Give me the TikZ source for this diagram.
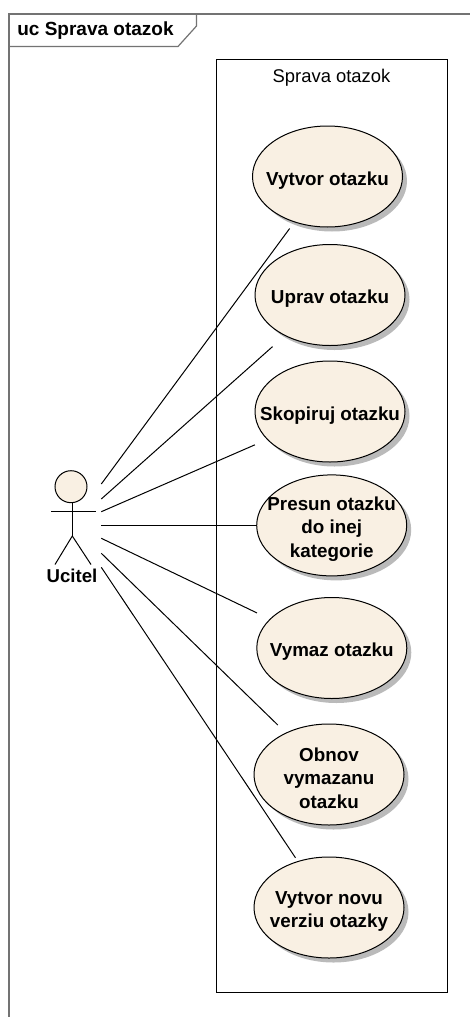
\documentclass[tikz,border=0pt]{standalone}
\usepackage{fontspec}
\setmainfont{Liberation Sans}
\usetikzlibrary{shadows,shapes.geometric}
\tikzset{
	usecase/.style={ellipse, draw=black, line width=1pt, fill=caseFill, minimum width=150pt, minimum height=101pt, inner xsep=-25pt, inner ysep=-20pt, outer sep=0pt, align=center, font=\fontsize{18.8}{23.2}\bfseries\selectfont, execute at begin node={\rule{0pt}{#1}}, general shadow={fill=black!27, shadow xshift=4.5pt, shadow yshift=-4.5pt}},
	usecase/.default=21pt,
	assoc/.style={line width=1pt, color=black},
	stick/.style={line width=1pt, color=black}
}
\definecolor{caseFill}{RGB}{249,240,227}
\begin{document}
\begin{tikzpicture}[x=1pt, y=-1pt]
		\useasboundingbox (0, 0) rectangle (470, 1017);
		
		\draw[line width=1.4pt, color=black!55] (9, 1017) -- (9, 14) -- (470, 14);
		\draw[line width=1.2pt, color=black!55] (9, 46.5) -- (178, 46.5) -- (196.5, 26) -- (196.5, 14);
		\node (title) at (95.5, 30.5) {\fontsize{19}{23}\bfseries\selectfont uc Sprava otazok};
		
		\node[draw=black, line width=1pt, minimum width=230.5pt, minimum height=932.5pt, inner sep=0pt, outer sep=0pt] (system) at (332, 526.2) {};
		\node (systemName) at (331.5, 78) {\fontsize{18.4}{23}\selectfont Sprava otazok};
		
		\node[usecase] (vytvor) at (327.5, 176.5) {Vytvor otazku};
		\node[usecase] (uprav) at (330, 295) {Uprav otazku};
		\node[usecase] (skopiruj) at (330, 411.5) {Skopiruj otazku};
		\node[usecase=67.4pt] (presun) at (331.7, 525.4) {Presun otazku\\do inej\\kategorie};
		\node[usecase] (vymaz) at (331.8, 648) {Vymaz otazku};
		\node[usecase=67.4pt] (obnov) at (329, 774.5) {Obnov\\vymazanu\\otazku};
		\node[usecase=44.2pt] (novu) at (329, 907.5) {Vytvor novu\\verziu otazky};
		
		\node[circle, draw=black, line width=1pt, fill=caseFill, minimum size=32pt, inner sep=0pt, outer sep=0pt] (head) at (71, 486.7) {};
		\coordinate (hip) at (72.3, 536);
		\coordinate (armL) at (51, 511);
		\coordinate (armR) at (95.5, 511);
		\coordinate (footL) at (55, 564.5);
		\coordinate (footR) at (91, 564.5);
		\draw[stick] (head.south -| hip) -- (hip);
		\draw[stick] (armL) -- (armR);
		\draw[stick] (footL) -- (hip) -- (footR);
		\node (ucitel) at (72, 576) {\fontsize{18.6}{23}\bfseries\selectfont Ucitel};
		
		\coordinate (from1) at (101.3, 484);
		\coordinate (from2) at (101.3, 499);
		\coordinate (from3) at (101.3, 511.7);
		\coordinate (from4) at (101.3, 525.4);
		\coordinate (from5) at (101.3, 538.3);
		\coordinate (from6) at (101.3, 553.3);
		\coordinate (from7) at (101.3, 567.3);
		
		\draw[assoc, shorten >=8.3pt] (from1) -- (vytvor.234.4);
		\draw[assoc, shorten >=16.8pt] (from2) -- (uprav.222.2);
		\draw[assoc, shorten >=13.7pt] (from3) -- (skopiruj.204.2);
		\draw[assoc] (from4) -- (presun.west);
		\draw[assoc, shorten >=14.6pt] (from5) -- (vymaz.155.4);
		\draw[assoc, shorten >=11.5pt] (from6) -- (obnov.136.6);
		\draw[assoc, shorten >=4.5pt] (from7) -- (novu.124.8);
	\end{tikzpicture}
\end{document}
